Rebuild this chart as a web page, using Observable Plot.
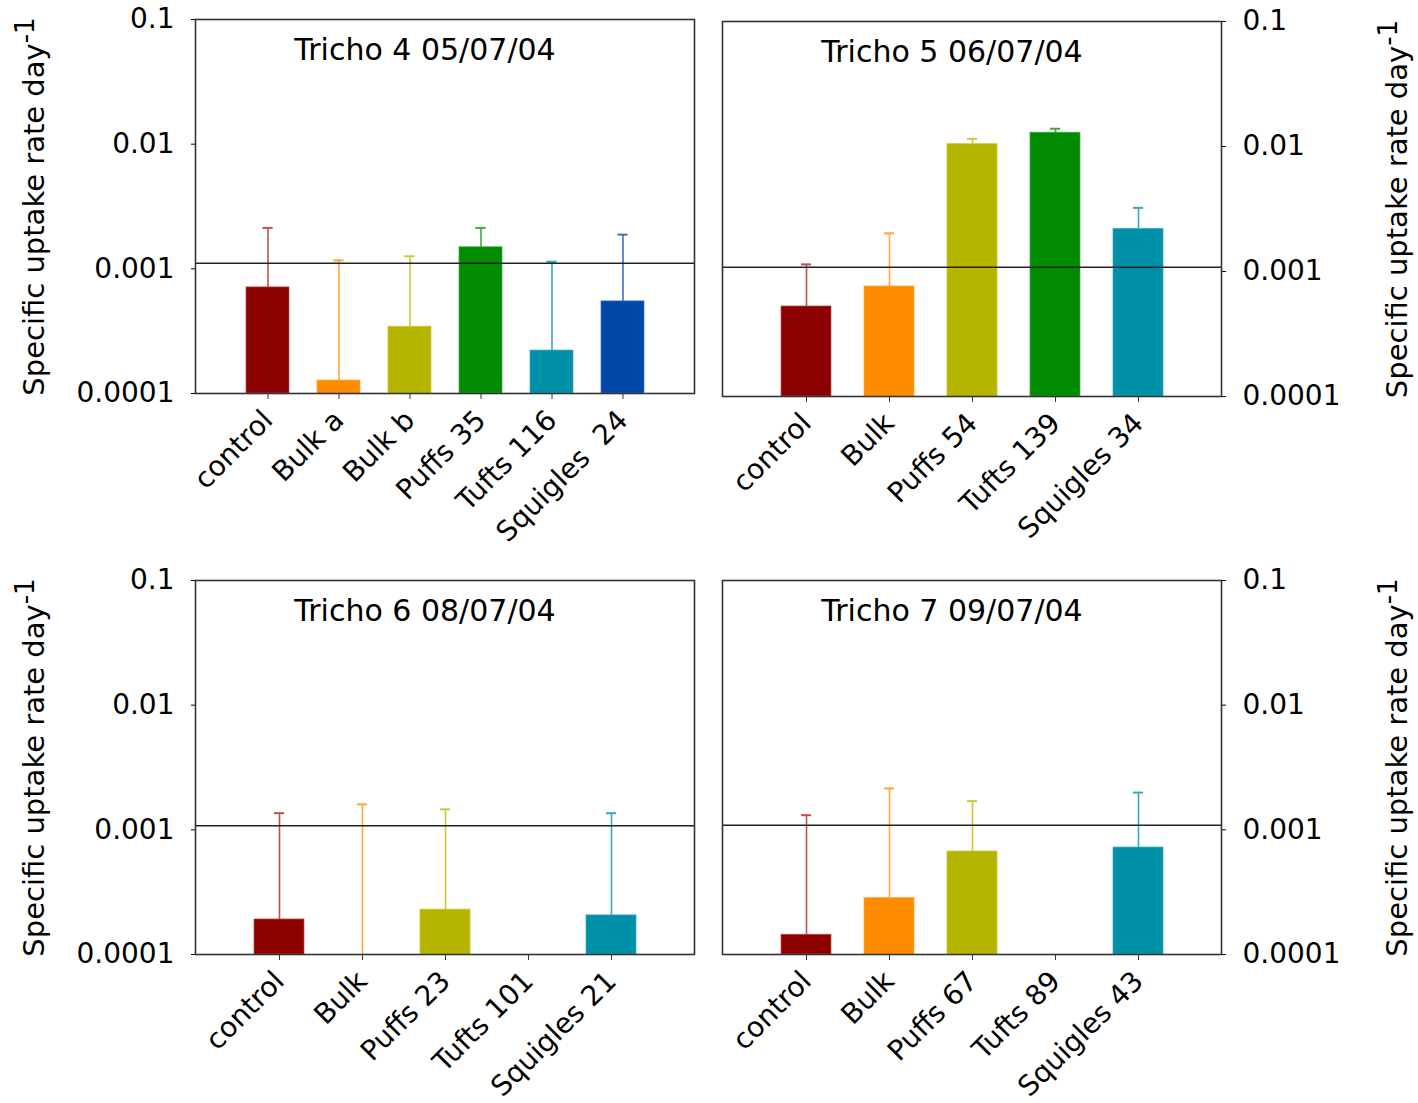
<!DOCTYPE html>
<html>
<head>
<meta charset="utf-8">
<script src="https://cdn.jsdelivr.net/npm/d3@7"></script>
<script src="https://cdn.jsdelivr.net/npm/@observablehq/plot@0.6"></script>
<style>
  html, body { margin: 0; padding: 0; background: #fff; }
  #chart { position: relative; width: 1418px; height: 1103px; background: #fff; overflow: hidden; }
  #chart svg { position: absolute; overflow: visible; }
  #chart svg text { white-space: pre; }
</style>
</head>
<body>
<div id="chart"></div>
<script>
// Specific uptake rates (day^-1) per sample, with the upper end of each error bar
const panelTitles = ["Tricho 4 05/07/04", "Tricho 5 06/07/04", "Tricho 6 08/07/04", "Tricho 7 09/07/04"];

const categoriesT4 = ["control", "Bulk a", "Bulk b", "Puffs 35", "Tufts 116", "Squigles  24"];
const ratesT4 = [0.00071, 0.000127, 0.000343, 0.00149, 0.000221, 0.000548];
const upperT4 = [0.00213, 0.00117, 0.00126, 0.00213, 0.00114, 0.00188];

const categoriesT5 = ["control", "Bulk", "Puffs 54", "Tufts 139", "Squigles 34"];
const ratesT5 = [0.000525, 0.000759, 0.01044, 0.01288, 0.00219];
const upperT5 = [0.00114, 0.00202, 0.01153, 0.01387, 0.00323];

const categoriesT6 = ["control", "Bulk", "Puffs 23", "Tufts 101", "Squigles 21"];
const ratesT6 = [0.000191, null, 0.000229, null, 0.000206];
const upperT6 = [0.00136, 0.0016, 0.00146, null, 0.00136];

const categoriesT7 = ["control", "Bulk", "Puffs 67", "Tufts 89", "Squigles 43"];
const ratesT7 = [0.000144, 0.000284, 0.00067, null, 0.000721];
const upperT7 = [0.00131, 0.00215, 0.0017, null, 0.00199];

// reference level drawn across every panel
const referenceRate = [0.00111, 0.00108, 0.00108, 0.00109];

const yTicks = [0.0001, 0.001, 0.01, 0.1];
const yTickLabels = ["0.0001", "0.001", "0.01", "0.1"];
const yTitle = "Specific uptake rate day";
const yTitleExponent = "-1";

const barColors = ["#8b0000", "#ff8c00", "#b5b500", "#008b00", "#0090a8", "#0047a8"];
const errColors = ["#c05050", "#ffa838", "#c8c838", "#40a840", "#38a8c0", "#3c70c8"];

const FONT = "DejaVu Sans, Verdana, sans-serif";

function panel({title, cats, rates, upper, ref, side, left, top, width, height, marginLeft, marginRight, marginTop, marginBottom}) {
  const rows = cats.map((c, i) => ({cat: c, rate: rates[i], upper: upper[i], fill: barColors[i], err: errColors[i]}));
  const n = cats.length;
  const frameW = width - marginLeft - marginRight;
  const bandW = frameW * 0.6 / (n + 1);
  const capInset = Math.max(0, (bandW - 10) / 2);

  const svg = Plot.plot({
    width, height, marginLeft, marginRight, marginTop, marginBottom,
    style: {fontFamily: FONT, fontSize: "28px", color: "#000", background: "transparent"},
    color: {type: "identity"},
    x: {type: "band", domain: cats, paddingInner: 0.4, paddingOuter: 0.7, label: null},
    y: {type: "log", domain: [1e-4, 0.1], label: null},
    marks: [
      Plot.barY(rows.filter(d => d.rate != null), {
        x: "cat", y1: 1e-4, y2: "rate", fill: "fill", stroke: "err", strokeWidth: 1, strokeOpacity: 0.7
      }),
      Plot.ruleX(rows.filter(d => d.upper != null), {
        x: "cat", y1: d => d.rate ?? 1e-4, y2: "upper", stroke: "err", strokeWidth: 1.6
      }),
      Plot.tickY(rows.filter(d => d.upper != null), {
        x: "cat", y: "upper", stroke: "err", strokeWidth: 2, inset: capInset
      }),
      Plot.ruleY([ref], {stroke: "#222", strokeWidth: 1.5}),
      Plot.axisX({tickRotate: -45, tickSize: 6, tickPadding: 16, fontSize: 28, label: null, stroke: "#333"}),
      Plot.axisY({
        anchor: side, ticks: yTicks, tickSize: 4, tickPadding: 17, fontSize: 28, label: null,
        tickFormat: d => yTickLabels[yTicks.indexOf(d)]
      }),
      Plot.frame({stroke: "#333", strokeWidth: 1.6}),
      Plot.text([title], {text: d => d, frameAnchor: "top", lineAnchor: "top", dy: 19, dx: -20, fontSize: 30, fill: "#000"}),
      Plot.text([yTitle], {
        text: d => d, frameAnchor: side, textAnchor: "middle", lineAnchor: "middle",
        rotate: -90, fontSize: 29, fill: "#000",
        dx: side === "left" ? -161 : 176
      })
    ]
  });

  // raise the exponent of "day-1" as a superscript
  d3.select(svg).selectAll("text")
    .filter(function () { return this.textContent === yTitle; })
    .append("tspan")
    .attr("dy", "-0.38em")
    .attr("font-size", "26px")
    .text(yTitleExponent);

  svg.style.left = left + "px";
  svg.style.top = top + "px";
  document.getElementById("chart").appendChild(svg);
}

panel({title: panelTitles[0], cats: categoriesT4, rates: ratesT4, upper: upperT4, ref: referenceRate[0], side: "left",
  left: 0, top: 0, width: 709, height: 560, marginLeft: 195, marginRight: 15, marginTop: 19, marginBottom: 167});
panel({title: panelTitles[1], cats: categoriesT5, rates: ratesT5, upper: upperT5, ref: referenceRate[1], side: "right",
  left: 709, top: 0, width: 709, height: 560, marginLeft: 13, marginRight: 197, marginTop: 21, marginBottom: 164});
panel({title: panelTitles[2], cats: categoriesT6, rates: ratesT6, upper: upperT6, ref: referenceRate[2], side: "left",
  left: 0, top: 560, width: 709, height: 543, marginLeft: 195, marginRight: 15, marginTop: 20, marginBottom: 149});
panel({title: panelTitles[3], cats: categoriesT7, rates: ratesT7, upper: upperT7, ref: referenceRate[3], side: "right",
  left: 709, top: 560, width: 709, height: 543, marginLeft: 13, marginRight: 197, marginTop: 20, marginBottom: 149});
</script>
</body>
</html>
